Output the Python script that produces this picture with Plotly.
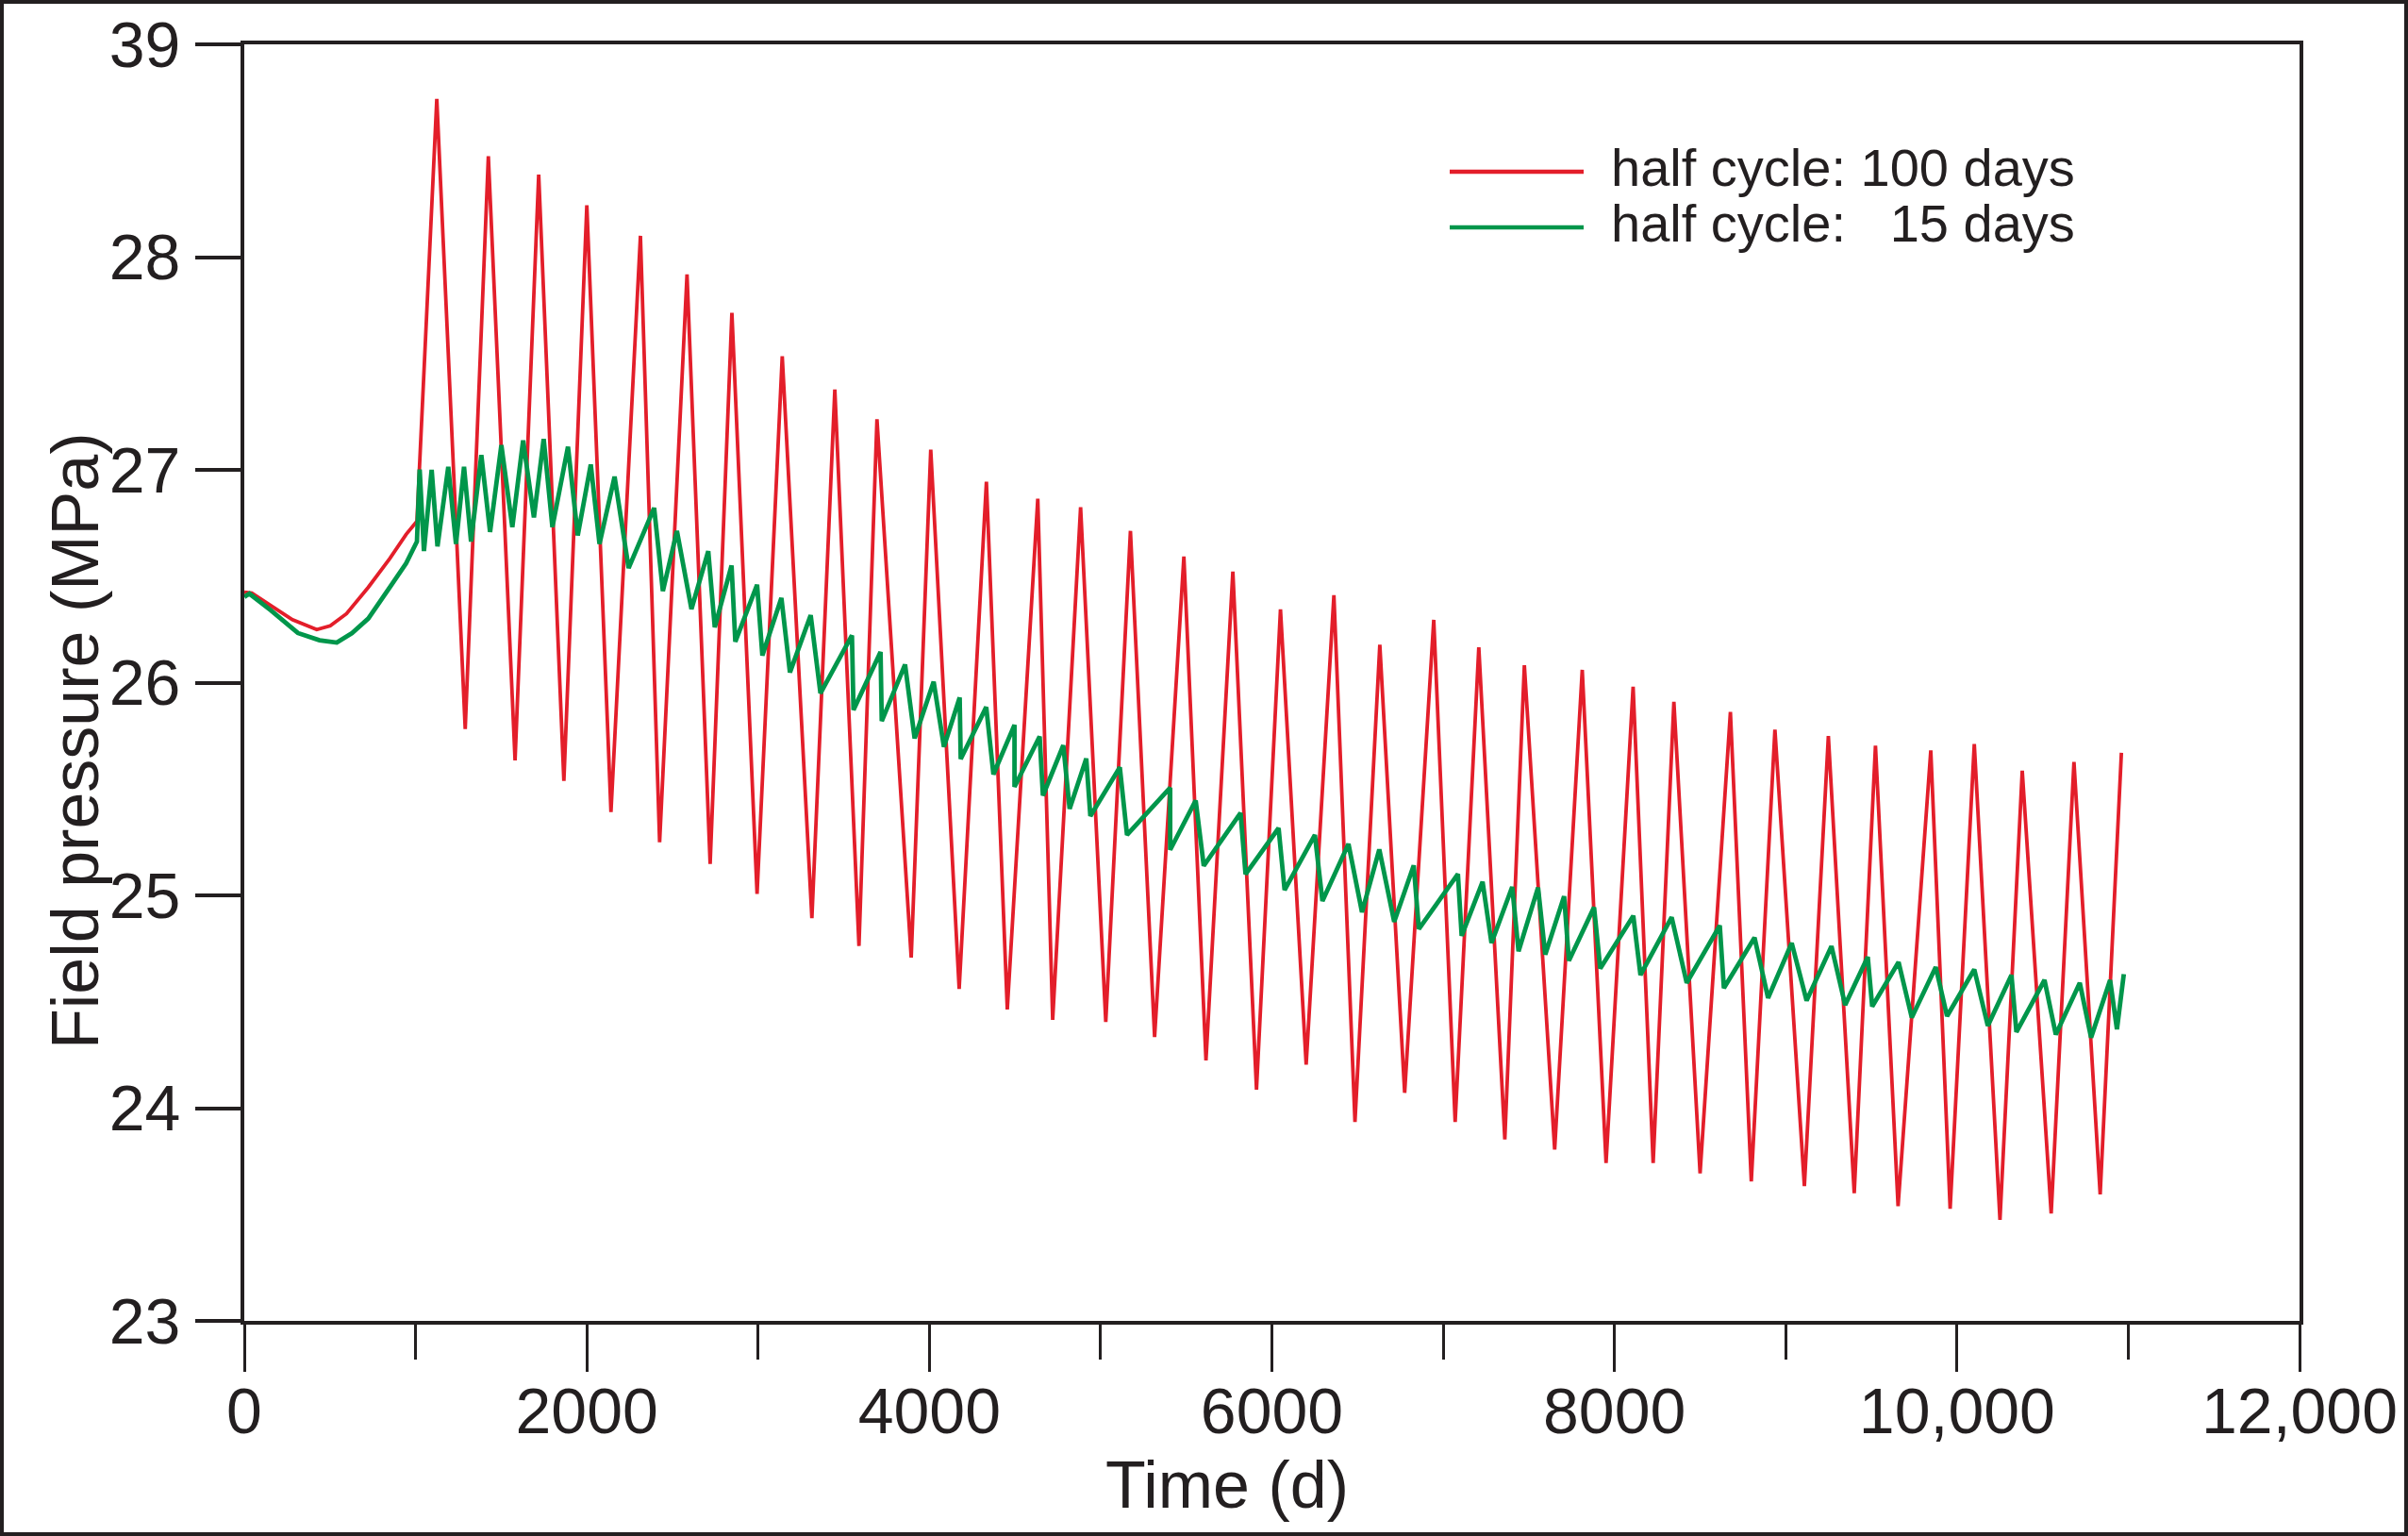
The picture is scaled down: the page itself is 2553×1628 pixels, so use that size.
import plotly.graph_objects as go

# ---------------- data ----------------
red_name = "half cycle: 100 days"
green_name = "half cycle:\u00a0\u00a0\u00a015 days"

red_t = [0, 44, 155, 281, 423, 502, 597, 724, 850, 945, 1008,
         1124, 1290, 1425, 1581, 1719, 1866, 2000, 2141, 2313, 2425, 2585, 2720,
         2847, 2994, 3141, 3314, 3448, 3589, 3694, 3894, 4008, 4174, 4333, 4455,
         4633, 4720, 4883, 5030, 5174, 5315, 5486, 5615, 5772, 5910, 6050, 6200,
         6362, 6485, 6630, 6775, 6945, 7070, 7208, 7360, 7474, 7651, 7812, 7951,
         8109, 8226, 8347, 8500, 8677, 8799, 8937, 9109, 9249, 9400, 9524, 9656,
         9847, 9960, 10101, 10251, 10381, 10550, 10683, 10836, 10960]
red_p = [26.425, 26.421, 26.362, 26.296, 26.249, 26.267, 26.324, 26.448, 26.584, 26.697, 26.758,
         28.743, 25.782, 28.474, 25.635, 28.388, 25.538, 28.243, 25.392, 28.10, 25.25, 27.919, 25.148,
         27.738, 25.007, 27.534, 24.893, 27.378, 24.762, 27.238, 24.708, 27.095, 24.56, 26.944, 24.464,
         26.864, 24.415, 26.824, 24.405, 26.713, 24.334, 26.593, 24.224, 26.522, 24.087, 26.344, 24.205,
         26.411, 23.935, 26.178, 24.072, 26.295, 23.935, 26.166, 23.853, 26.082, 23.805, 26.06, 23.742,
         25.981, 23.742, 25.91, 23.693, 25.862, 23.656, 25.779, 23.634, 25.749, 23.60, 25.704, 23.539,
         25.681, 23.527, 25.711, 23.475, 25.586, 23.505, 25.627, 23.595, 25.67]

green_t = [0, 30, 155, 313, 439, 540, 629, 724, 850, 945, 1008,
           1024, 1049, 1094, 1128, 1191, 1236, 1283, 1324, 1384, 1435, 1501, 1565,
           1628, 1691, 1748, 1799, 1890, 1947, 2023, 2074, 2162, 2244, 2393, 2444,
           2526, 2611, 2709, 2747, 2845, 2867, 2994, 3025, 3136, 3186, 3307, 3364,
           3548, 3557, 3715, 3722, 3858, 3914, 4025, 4085, 4177, 4183, 4332, 4374,
           4497, 4497, 4644, 4663, 4782, 4819, 4916, 4940, 5112, 5154, 5406, 5406,
           5555, 5602, 5817, 5846, 6039, 6074, 6251, 6295, 6447, 6526, 6627, 6714,
           6828, 6858, 7086, 7108, 7230, 7282, 7403, 7440, 7554, 7596, 7706, 7734,
           7881, 7917, 8110, 8152, 8334, 8422, 8615, 8639, 8818, 8897, 9035, 9122,
           9267, 9347, 9479, 9505, 9659, 9736, 9876, 9942, 10101, 10180, 10318, 10347,
           10511, 10577, 10717, 10783, 10894, 10934, 10974]
green_p = [26.403, 26.418, 26.34, 26.233, 26.199, 26.188, 26.233, 26.301, 26.448, 26.561, 26.663,
           27.002, 26.618, 27.00, 26.64, 27.014, 26.652, 27.014, 26.663, 27.07, 26.708, 27.116, 26.731,
           27.138, 26.776, 27.145, 26.731, 27.109, 26.692, 27.025, 26.652, 26.968, 26.538, 26.821, 26.430,
           26.713, 26.346, 26.618, 26.26, 26.55, 26.192, 26.46, 26.127, 26.398, 26.048, 26.317, 25.95,
           26.222, 25.872, 26.144, 25.819, 26.085, 25.738, 26.004, 25.698, 25.93, 25.641, 25.885, 25.569,
           25.801, 25.51, 25.747, 25.469, 25.705, 25.407, 25.643, 25.373, 25.602, 25.284, 25.506, 25.214,
           25.446, 25.139, 25.387, 25.099, 25.316, 25.025, 25.284, 24.973, 25.242, 24.921, 25.216, 24.876,
           25.141, 24.842, 25.10, 24.81, 25.064, 24.776, 25.04, 24.737, 25.037, 24.722, 24.996, 24.693,
           24.944, 24.656, 24.904, 24.626, 24.897, 24.589, 24.858, 24.564, 24.801, 24.518, 24.776, 24.505,
           24.761, 24.485, 24.711, 24.478, 24.686, 24.426, 24.663, 24.432, 24.652, 24.387, 24.625, 24.358,
           24.602, 24.346, 24.589, 24.331, 24.602, 24.371, 24.63]

x_tickvals = [0, 2000, 4000, 6000, 8000, 10000, 12000]
x_ticktext = ["0", "2000", "4000", "6000", "8000", "10,000", "12,000"]
y_tickvals = [23, 24, 25, 26, 27, 28, 29]
y_ticktext = ["23", "24", "25", "26", "27", "28", "39"]

x_title = "Time (d)"
y_title = "Field pressure (MPa)"

# ---------------- styling / layout ----------------
W, H = 2553, 1628
ML, MR, MT, MB = 259, 115, 47, 228
PW, PH = W - ML - MR, H - MT - MB

def px(x):
    return (x - ML) / PW

def py(y):
    return (H - MB - y) / PH

INK = "#231F20"
RED = "#E31E2A"
GREEN = "#00964B"
FONT = "Liberation Sans, Arial, Helvetica, sans-serif"

fig = go.Figure()
fig.add_trace(go.Scatter(x=red_t, y=red_p, mode="lines", name=red_name,
                         line=dict(color=RED, width=3.8), showlegend=False))
fig.add_trace(go.Scatter(x=green_t, y=green_p, mode="lines", name=green_name,
                         line=dict(color=GREEN, width=4.8), showlegend=False))

shapes = []
annotations = []

# manual legend
leg_rows = [(red_name, RED, 182), (green_name, GREEN, 241)]
for name, col, yy in leg_rows:
    shapes.append(dict(type="line", xref="paper", yref="paper",
                       x0=px(1537), x1=px(1679), y0=py(yy), y1=py(yy),
                       line=dict(color=col, width=4.5)))
    annotations.append(dict(text=name, xref="paper", yref="paper",
                            x=px(1706), y=py(yy - 4), xanchor="left", yanchor="middle",
                            showarrow=False, font=dict(family=FONT, size=56, color=INK)))

# axis titles
annotations.append(dict(text=x_title, xref="paper", yref="paper",
                        x=px(1301), y=py(1574), xanchor="center", yanchor="middle",
                        showarrow=False, font=dict(family=FONT, size=70, color=INK)))
annotations.append(dict(text=y_title, xref="paper", yref="paper", textangle=-90,
                        x=px(80), y=py(785), xanchor="center", yanchor="middle",
                        showarrow=False, font=dict(family=FONT, size=70, color=INK)))

# outer frame around the whole picture
shapes.append(dict(type="rect", xref="paper", yref="paper",
                   x0=px(2), x1=px(W - 2), y0=py(H - 2), y1=py(2),
                   line=dict(color=INK, width=4), fillcolor="rgba(0,0,0,0)", layer="above"))

fig.update_layout(
    width=W, height=H,
    margin=dict(l=ML, r=MR, t=MT, b=MB, autoexpand=False),
    paper_bgcolor="white", plot_bgcolor="white",
    font=dict(family=FONT, color=INK),
    shapes=shapes, annotations=annotations,
    showlegend=False,
)
fig.update_xaxes(range=[0, 12000], tickmode="array", tickvals=x_tickvals, ticktext=x_ticktext,
                 ticks="outside", ticklen=50, tickwidth=2.5, tickcolor=INK,
                 minor=dict(dtick=1000, tick0=0, ticks="outside", ticklen=37, tickwidth=2.5, tickcolor=INK),
                 showline=True, linewidth=4, linecolor=INK, mirror=True, automargin=False,
                 showgrid=False, zeroline=False,
                 tickfont=dict(family=FONT, size=68, color=INK))
fig.update_yaxes(range=[23, 29], tickmode="array", tickvals=y_tickvals, ticktext=y_ticktext,
                 ticks="outside", ticklen=48, tickwidth=3.5, tickcolor=INK,
                 showline=True, linewidth=4, linecolor=INK, mirror=True, automargin=False,
                 showgrid=False, zeroline=False, ticklabelstandoff=2,
                 tickfont=dict(family=FONT, size=68, color=INK))
try:
    fig.update_xaxes(ticklabelstandoff=-17)
except ValueError:
    fig.update_xaxes(ticklabelstandoff=0)

fig.write_html("out.html")
